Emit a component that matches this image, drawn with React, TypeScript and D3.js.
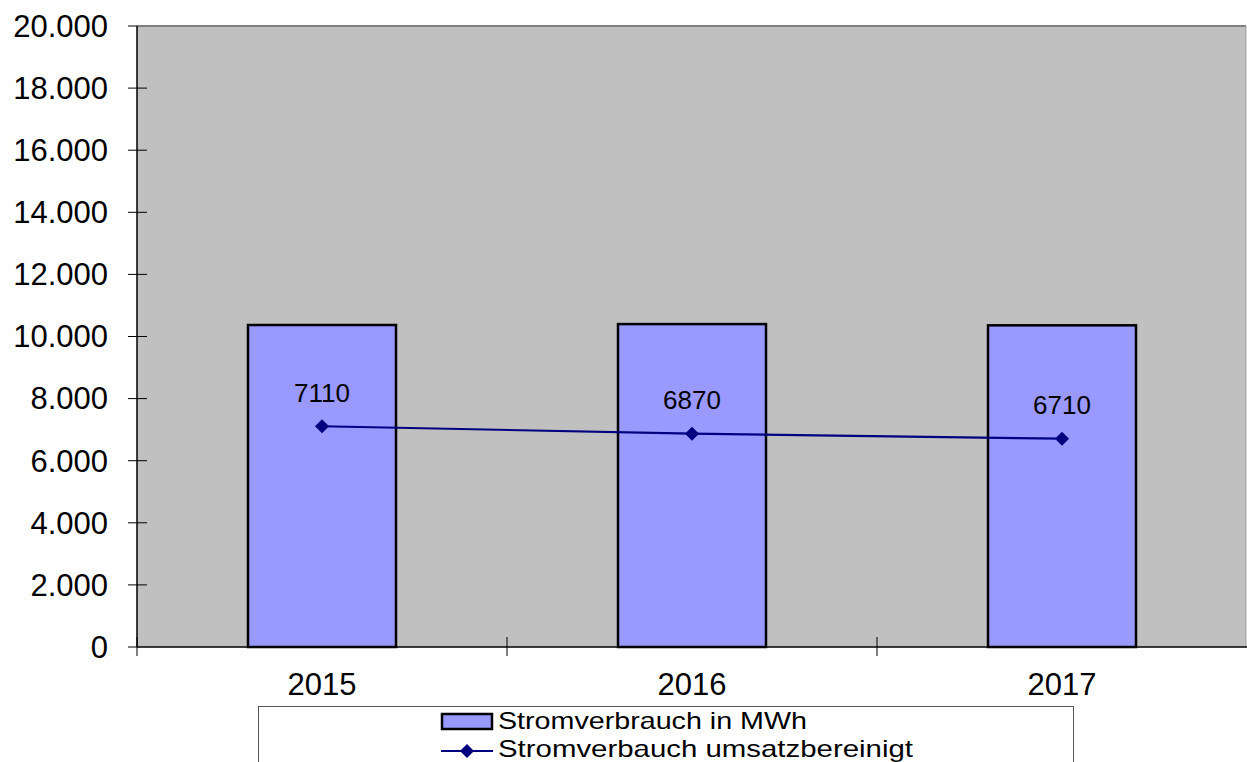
import React from 'react';
import { scaleBand, scaleLinear, line, range, formatLocale } from 'd3';

const years = ['2015', '2016', '2017'];
const consumption = [10370, 10400, 10360];
const adjusted = [7110, 6870, 6710];
const yTicks = range(0, 20001, 2000);
const seriesNames = ['Stromverbrauch in MWh', 'Stromverbauch umsatzbereinigt'];

const width = 1247;
const height = 762;
const left = 137;
const right = 1246;
const top = 26;
const bottom = 647;

const font = '"Liberation Sans", Arial, Helvetica, sans-serif';
const fmt = formatLocale({ decimal: ',', thousands: '.', grouping: [3], currency: ['', ''] }).format(',');

const App = () => {
  const xScale = scaleBand<string>().domain(years).range([left, 1247]).padding(0);
  const yScale = scaleLinear().domain([0, 20000]).range([bottom, top]);
  const bw = xScale.bandwidth() * 0.4;
  const cx = (y: string) => (xScale(y) as number) + xScale.bandwidth() / 2;

  const pts = years.map((y, i) => [cx(y), yScale(adjusted[i])] as [number, number]);
  const path = line()(pts) || '';

  const diamond = (x: number, y: number, r: number) =>
    `M${x},${y - r}L${x + r},${y}L${x},${y + r}L${x - r},${y}Z`;

  return (
    <svg width={width} height={height} style={{ position: 'absolute', left: 0, top: 0 }} fontFamily={font}>
      <rect x={0} y={0} width={width} height={height} fill="#fff" />
      {/* plot area */}
      <rect x={left} y={top} width={right - left} height={bottom - top} fill="#c0c0c0" />
      <line x1={128} x2={right} y1={top} y2={top} stroke="#808080" strokeWidth={2} />
      <line x1={right} x2={right} y1={top} y2={bottom} stroke="#a0a0a0" strokeWidth={1} />

      {/* bars */}
      {years.map((y, i) => (
        <rect
          key={y}
          x={cx(y) - bw / 2}
          y={yScale(consumption[i])}
          width={bw}
          height={bottom - yScale(consumption[i])}
          fill="#9999ff"
          stroke="#000"
          strokeWidth={2.5}
        />
      ))}

      {/* y axis */}
      <line x1={left} x2={left} y1={top} y2={bottom} stroke="#000" strokeWidth={1.5} />
      {yTicks.map(t => (
        <g key={t}>
          {t > 0 && t < 20000 && (
            <line x1={128} x2={147} y1={yScale(t)} y2={yScale(t)} stroke="#000" strokeWidth={1} />
          )}
          <text x={108} y={yScale(t)} dy="0.35em" textAnchor="end" fontSize={31} fill="#000">
            {fmt(t)}
          </text>
        </g>
      ))}

      {/* x axis */}
      <line x1={left} x2={width} y1={bottom} y2={bottom} stroke="#000" strokeWidth={1.5} />
      <line x1={128} x2={left} y1={bottom} y2={bottom} stroke="#000" strokeWidth={1} />
      {years.map(y => (
        <line key={y} x1={xScale(y)} x2={xScale(y)} y1={637} y2={656} stroke="#000" strokeWidth={1} />
      ))}
      {years.map(y => (
        <text key={y} x={cx(y)} y={695} textAnchor="middle" fontSize={31} fill="#000">
          {y}
        </text>
      ))}

      {/* line series */}
      <path d={path} fill="none" stroke="#000080" strokeWidth={2.2} />
      {pts.map((p, i) => (
        <g key={i}>
          <path d={diamond(p[0], p[1], 7)} fill="#000080" />
          <text x={p[0]} y={p[1] - 24.5} textAnchor="middle" fontSize={26} fill="#000">
            {adjusted[i]}
          </text>
        </g>
      ))}

      {/* legend */}
      <rect x={258.5} y={706.5} width={815} height={80} fill="#fff" stroke="#555" strokeWidth={1} />
      <rect x={442} y={714} width={50} height={15} fill="#9999ff" stroke="#000" strokeWidth={2.5} />
      <text x={498} y={729} fontSize={24} fill="#000" textLength={309} lengthAdjust="spacingAndGlyphs">
        {seriesNames[0]}
      </text>
      <line x1={441} x2={493} y1={751} y2={751} stroke="#000080" strokeWidth={2} />
      <path d={diamond(467, 751, 7)} fill="#000080" />
      <text x={498} y={757} fontSize={24} fill="#000" textLength={415} lengthAdjust="spacingAndGlyphs">
        {seriesNames[1]}
      </text>
    </svg>
  );
};

export default App;
